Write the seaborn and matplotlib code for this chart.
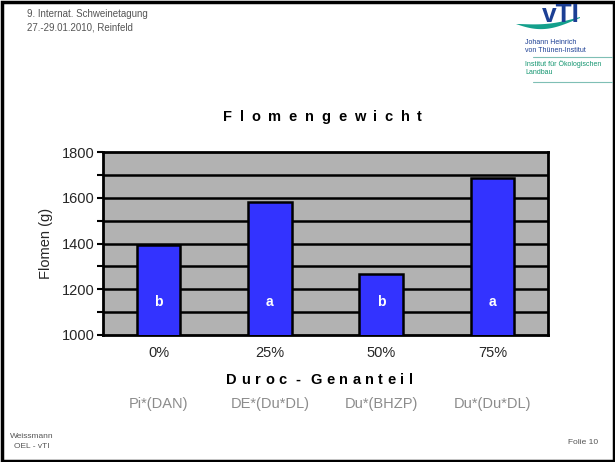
import matplotlib
matplotlib.use("Agg")
import matplotlib.pyplot as plt
import seaborn as sns
import pandas as pd
import numpy as np
from matplotlib.ticker import MultipleLocator
from matplotlib.patches import Rectangle, Polygon
import matplotlib.transforms as mtransforms

# ---- data ----
categories = ["0%", "25%", "50%", "75%"]
weights = [1395, 1583, 1265, 1685]
letters = ["b", "a", "b", "a"]
crosses = ["Pi*(DAN)", "DE*(Du*DL)", "Du*(BHZP)", "Du*(Du*DL)"]

sns.set_theme(style="white")
plt.rcParams["font.family"] = ["Liberation Sans", "DejaVu Sans"]

df = pd.DataFrame({"Anteil": categories, "Gewicht": weights})

W, H = 615, 462
fig = plt.figure(figsize=(W / 100, H / 100), dpi=100)
fig.patch.set_facecolor("white")

ax = fig.add_axes([103 / W, 1 - 335 / H, 445 / W, 183 / H])
ax.set_facecolor("#b2b2b2")
sns.barplot(data=df, x="Anteil", y="Gewicht", order=categories, color="#3333ff",
            saturation=1, width=0.39, edgecolor="black", linewidth=1.8, ax=ax,
            zorder=3)
ax.set_ylim(1000, 1800)
ax.set_xlim(-0.5, len(categories) - 0.5)
ax.yaxis.set_major_locator(MultipleLocator(200))
ax.yaxis.set_minor_locator(MultipleLocator(100))
for v in np.arange(1100, 1800, 100):
    ax.axhline(v, color="black", lw=1.8, zorder=1)
for s in ax.spines.values():
    s.set_color("black")
    s.set_linewidth(2)
ax.tick_params(axis="y", which="both", direction="out", left=True, length=4,
               width=1.5, color="black", labelsize=10.5, pad=2)
ax.tick_params(axis="x", length=0, labelsize=10.5, pad=8)
ax.set_xlabel("")
ax.set_ylabel("Flomen (g)", fontsize=10.5, labelpad=6)

for i, l in enumerate(letters):
    ax.text(i, 1145, l, color="white", fontsize=10, fontweight="bold",
            ha="center", va="center", zorder=5)

trans = mtransforms.blended_transform_factory(ax.transData, fig.transFigure)
for i, c in enumerate(crosses):
    ax.text(i, 1 - 404 / H, c, transform=trans, color="#8c8c8c", fontsize=10.5,
            ha="center", va="center")

fig.canvas.draw()
renderer = fig.canvas.get_renderer()


def spaced(text, xc, yc, total_w, size, weight="bold"):
    # measure characters and spread them over total width (px)
    ws = []
    for ch in text:
        t = fig.text(0, 0, ch if ch != " " else "-", fontsize=size,
                     fontweight=weight)
        bb = t.get_window_extent(renderer)
        ws.append(bb.width if ch != " " else 0.0)
        t.remove()
    n_gaps = len(text) - 1
    gap = (total_w - sum(ws)) / n_gaps
    x = xc - total_w / 2
    for ch, w in zip(text, ws):
        if ch != " ":
            fig.text(x / W, 1 - yc / H, ch, fontsize=size, fontweight=weight,
                     ha="left", va="center", color="black")
        x += w + gap


spaced("Flomengewicht", 322.5, 117, 199, 10.5)
spaced("Duroc - Genanteil", 319.5, 380, 187, 10.5)

# header / footer
fig.text(27 / W, 1 - 14 / H, "9. Internat. Schweinetagung", fontsize=7,
         color="#555555", va="center")
fig.text(27 / W, 1 - 27 / H, "27.-29.01.2010, Reinfeld", fontsize=7,
         color="#555555", va="center")
fig.text(32 / W, 1 - 436 / H, "Weissmann", fontsize=6, color="#555555",
         va="center", ha="center")
fig.text(32 / W, 1 - 447 / H, "OEL - vTI", fontsize=6, color="#555555",
         va="center", ha="center")
fig.text(598 / W, 1 - 442 / H, "Folie 10", fontsize=6, color="#555555",
         va="center", ha="right")

# logo: swoosh crescent
t = np.linspace(0, 1, 40)
xo = 516 + 64 * t
yo = 24 + 9 * np.sin(np.pi * t) * (1 - 0.3 * t) - 6 * t
xi = 580 - 60 * t
yi = 17 + 3 * np.sin(np.pi * t) + 7 * t
pts = np.concatenate([np.c_[xo, yo], np.c_[xi, yi]])
fig.patches.append(Polygon(np.c_[pts[:, 0] / W, 1 - pts[:, 1] / H],
                           closed=True, transform=fig.transFigure,
                           facecolor="#14a08c", edgecolor="none"))
fig.text(561 / W, 1 - 22 / H, "vTI", fontsize=19, fontweight="bold",
         color="#1c3f94", ha="center", va="baseline")
fig.text(525 / W, 1 - 42 / H, "Johann Heinrich", fontsize=5, color="#1c3f94",
         va="center")
fig.text(525 / W, 1 - 50 / H, "von Thünen-Institut", fontsize=5,
         color="#1c3f94", va="center")
fig.add_artist(plt.Line2D([533 / W, 612 / W], [1 - 57 / H, 1 - 57 / H],
                          color="#7fbfb5", lw=0.8))
fig.text(525 / W, 1 - 64 / H, "Institut für Ökologischen", fontsize=5,
         color="#12956f", va="center")
fig.text(525 / W, 1 - 72 / H, "Landbau", fontsize=5, color="#12956f",
         va="center")
fig.add_artist(plt.Line2D([533 / W, 612 / W], [1 - 82 / H, 1 - 82 / H],
                          color="#7fbfb5", lw=0.8))

# slide border
fig.patches.append(Rectangle((1.5 / W, 1.5 / H), (W - 3) / W, (H - 3) / H,
                             transform=fig.transFigure, fill=False,
                             edgecolor="black", lw=2.5))

fig.savefig("out.png", dpi=100)
